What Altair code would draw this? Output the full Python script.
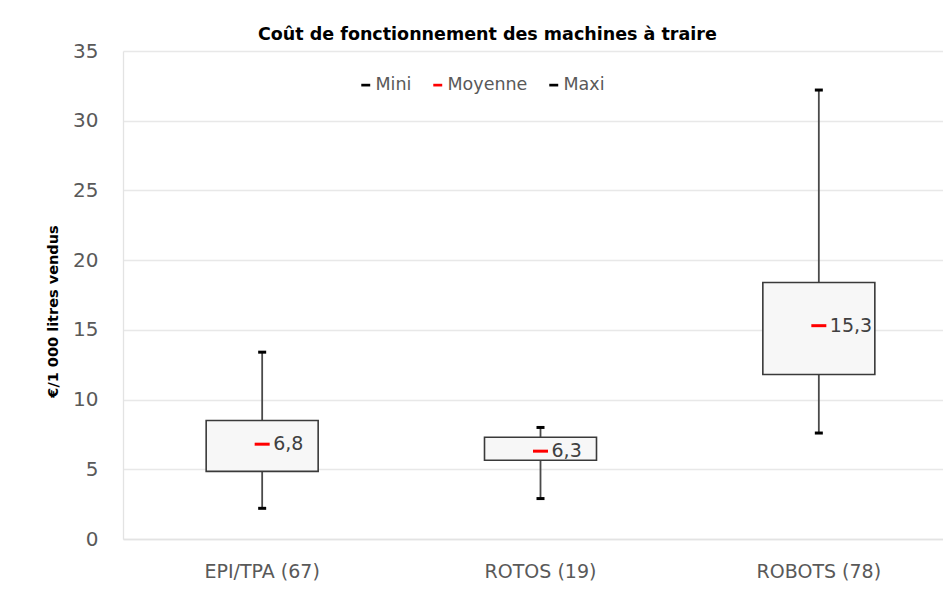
import altair as alt
import pandas as pd

categories = ["EPI/TPA (67)", "ROTOS (19)", "ROBOTS (78)"]
mini = [2.2, 2.9, 7.6]
q_low = [4.85, 5.65, 11.8]
q_high = [8.5, 7.3, 18.4]
maxi = [13.4, 8.0, 32.2]
moyenne = [6.8, 6.3, 15.3]

series_names = ["Mini", "Moyenne", "Maxi"]
series_colors = ["#000000", "#ff0000", "#000000"]

box_df = pd.DataFrame({
    "cat": categories, "mini": mini, "qlow": q_low, "qhigh": q_high,
    "maxi": maxi, "moy": moyenne,
    "label": [f"{v:.1f}".replace(".", ",") for v in moyenne],
})

caps_rows = []
for c, lo, hi in zip(categories, mini, maxi):
    caps_rows.append({"cat": c, "serie": "Mini", "val": lo})
    caps_rows.append({"cat": c, "serie": "Maxi", "val": hi})
caps_df = pd.DataFrame(caps_rows)
mean_df = pd.DataFrame({"cat": categories, "serie": "Moyenne", "val": moyenne,
                        "label": box_df["label"]})

FONT = "DejaVu Sans"

x_enc = alt.X("cat:N", sort=categories, scale=alt.Scale(range=[0, 835]),
              axis=alt.Axis(title=None, labelAngle=0, labelFont=FONT, labelFontSize=19,
                            labelColor="#595959", ticks=False, labelPadding=23,
                            domainColor="#e3e3e3", domainWidth=1.3))
y_scale = alt.Scale(domain=[0, 35], nice=False)
y_axis = alt.Axis(title="€/1 000 litres vendus", values=[0, 5, 10, 15, 20, 25, 30, 35],
                  labelFont=FONT, labelFontSize=20, labelColor="#595959",
                  ticks=False, labelPadding=25, domainColor="#e3e3e3", domainWidth=1.3,
                  gridColor="#e8e8e8", gridWidth=1.3,
                  titleFont=FONT, titleFontSize=14.5, titleFontWeight="bold",
                  titleColor="#000000", titleX=-70, titleY=260, titleAngle=-90,
                  titleAlign="center", titleBaseline="middle")

color_scale = alt.Scale(domain=series_names, range=series_colors)
legend = alt.Legend(title=None, orient="none", legendX=234, legendY=25,
                    direction="horizontal", labelFont=FONT, labelFontSize=17.5,
                    labelColor="#595959", symbolType="M-1,-0.3H1V0.3H-1Z",
                    symbolSize=80, symbolStrokeWidth=0, columnPadding=17,
                    labelOffset=1, symbolOpacity=1)

whisker = alt.Chart(box_df).mark_rule(color="#4a4a4a", strokeWidth=1.8).encode(
    x=x_enc, y=alt.Y("mini:Q", scale=y_scale, axis=y_axis), y2="maxi:Q")

box = alt.Chart(box_df).mark_bar(width=112, fill="#f7f7f7", stroke="#3a3a3a",
                                 strokeWidth=1.6, opacity=1).encode(
    x=x_enc, y=alt.Y("qlow:Q", scale=y_scale, axis=y_axis), y2="qhigh:Q")

caps = alt.Chart(caps_df).mark_tick(orient="horizontal", size=8, thickness=3,
                                    opacity=1).encode(
    x=x_enc, y=alt.Y("val:Q", scale=y_scale, axis=y_axis),
    color=alt.Color("serie:N", scale=color_scale, legend=legend))

means = alt.Chart(mean_df).mark_tick(orient="horizontal", size=15, thickness=3,
                                     opacity=1).encode(
    x=x_enc, y=alt.Y("val:Q", scale=y_scale, axis=y_axis),
    color=alt.Color("serie:N", scale=color_scale, legend=legend))

labels = alt.Chart(mean_df).mark_text(align="left", baseline="middle", dx=11,
                                       font=FONT, fontSize=19, color="#404040").encode(
    x=x_enc, y=alt.Y("val:Q", scale=y_scale, axis=y_axis), text="label:N")

chart = alt.layer(whisker, box, caps, means, labels).properties(
    width=820, height=488,
    autosize=alt.AutoSizeParams(type="none"),
    padding={"left": 115, "top": 43, "right": 0, "bottom": 45},
    title=alt.TitleParams("Coût de fonctionnement des machines à traire",
                          font=FONT, fontSize=17.5, fontWeight="bold", color="#000000",
                          anchor="start", frame="group", dx=135, offset=-2),
).configure_view(stroke=None).configure_axisX(grid=False)

chart.save("out.html", embed_options={"renderer": "svg", "actions": False})
